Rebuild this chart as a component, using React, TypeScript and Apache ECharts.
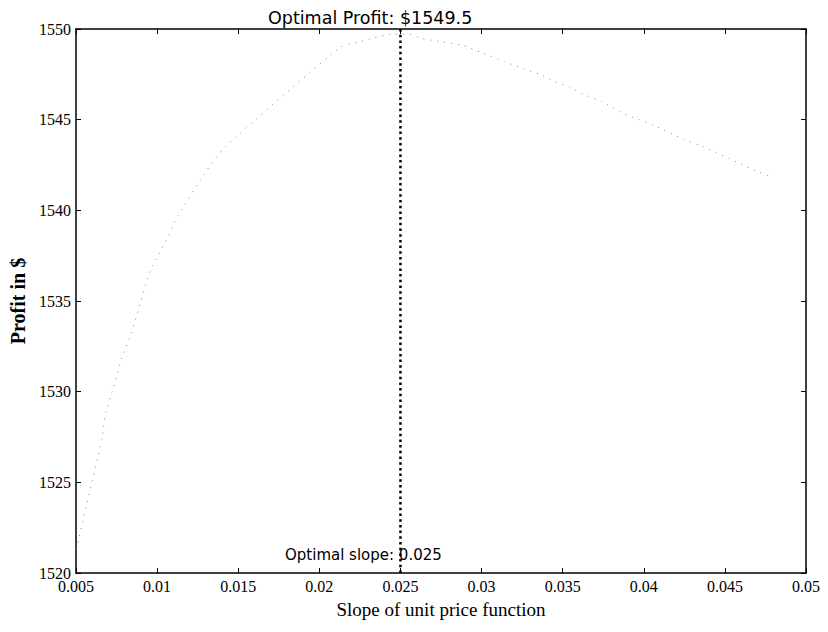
import React, { useEffect, useRef } from "react";
import * as echarts from "echarts";

const slopes = [
  0.005, 0.0052, 0.0054, 0.0066, 0.0068, 0.0073, 0.0075, 0.0078, 0.0084, 0.0091,
  0.0094, 0.0097, 0.0106, 0.0111, 0.0129, 0.0142, 0.0213, 0.0225, 0.0233, 0.0244,
  0.0256, 0.0262, 0.0275, 0.0288, 0.03, 0.0314, 0.0326, 0.0336, 0.0345, 0.0354,
  0.0363, 0.0374, 0.0386, 0.0394, 0.0406, 0.0425, 0.0437, 0.0466, 0.048,
];
const profits = [
  1521.3, 1522.0, 1522.8, 1527.4, 1528.7, 1530.2, 1530.8, 1531.8, 1533.2, 1535.3,
  1536.2, 1536.9, 1538.4, 1539.4, 1542.0, 1543.5, 1549.0, 1549.3, 1549.5, 1549.7,
  1549.7, 1549.5, 1549.3, 1549.1, 1548.7, 1548.2, 1547.8, 1547.5, 1547.1, 1546.8,
  1546.4, 1546.0, 1545.4, 1545.1, 1544.7, 1543.9, 1543.5, 1542.3, 1541.8,
];
const xTickLabels = ["0.005", "0.01", "0.015", "0.02", "0.025", "0.03", "0.035", "0.04", "0.045", "0.05"];
const yTickLabels = ["1520", "1525", "1530", "1535", "1540", "1545", "1550"];
const optimalSlope = 0.025;
const optimalProfit = 1549.5;
const xRange = [0.005, 0.05];
const yRange = [1520, 1550];

const serif = "'Liberation Serif', 'Times New Roman', serif";
const sans = "'DejaVu Sans', Arial, sans-serif";

export default function App() {
  const ref = useRef<HTMLDivElement>(null);
  useEffect(() => {
    document.body.style.margin = "0";
    const chart = echarts.init(ref.current!, null, { renderer: "svg" });
    const axisLine = { show: true, lineStyle: { color: "#000", width: 1.5 } };
    const tick = { show: true, inside: true, length: 5, lineStyle: { color: "#000", width: 1 } };
    const xLabelFmt = (v: number) => {
      const i = Math.round((v - xRange[0]) / 0.005);
      return xTickLabels[i] ?? "";
    };
    const yLabelFmt = (v: number) => {
      const i = Math.round((v - yRange[0]) / 5);
      return yTickLabels[i] ?? "";
    };
    chart.setOption({
      animation: false,
      backgroundColor: "#fff",
      grid: { left: 71, right: 22, top: 29, bottom: 59, containLabel: false },
      xAxis: [
        {
          type: "value",
          position: "bottom",
          min: xRange[0],
          max: xRange[1],
          interval: 0.005,
          axisLine,
          axisTick: tick,
          splitLine: { show: false },
          axisLabel: { formatter: xLabelFmt, color: "#000", fontFamily: serif, fontSize: 16, margin: 5 },
          name: "Slope of unit price function",
          nameLocation: "middle",
          nameGap: 27,
          nameTextStyle: { color: "#000", fontFamily: serif, fontSize: 19 },
        },
        {
          type: "value",
          position: "top",
          min: xRange[0],
          max: xRange[1],
          interval: 0.005,
          axisLine,
          axisTick: tick,
          axisLabel: { show: false },
          splitLine: { show: false },
        },
      ],
      yAxis: [
        {
          type: "value",
          position: "left",
          min: yRange[0],
          max: yRange[1],
          interval: 5,
          axisLine,
          axisTick: tick,
          splitLine: { show: false },
          axisLabel: { formatter: yLabelFmt, color: "#000", fontFamily: serif, fontSize: 16, margin: 5 },
          name: "Profit in $",
          nameLocation: "middle",
          nameGap: 48,
          nameTextStyle: { color: "#000", fontFamily: serif, fontSize: 20, fontWeight: "bold" },
        },
        {
          type: "value",
          position: "right",
          min: yRange[0],
          max: yRange[1],
          interval: 5,
          axisLine,
          axisTick: tick,
          axisLabel: { show: false },
          splitLine: { show: false },
        },
      ],
      series: [
        {
          type: "line",
          data: slopes.map((s, i) => [s, profits[i]]),
          smooth: 0.2,
          symbol: "none",
          lineStyle: { color: "#8a8a8a", width: 1, type: [1, 6] },
        },
        {
          type: "line",
          data: [
            [optimalSlope, yRange[0]],
            [optimalSlope, yRange[1]],
          ],
          symbol: "none",
          lineStyle: { color: "#000", width: 2.5, type: [2.5, 3.2] },
        },
      ],
      graphic: [
        {
          type: "text",
          left: 268,
          top: 9,
          style: {
            text: `Optimal Profit: $${optimalProfit}`,
            fill: "#000",
            font: `17.5px ${sans}`,
          },
        },
        {
          type: "text",
          left: 285,
          top: 547,
          style: {
            text: `Optimal slope: ${optimalSlope}`,
            fill: "#000",
            font: `15px ${sans}`,
          },
        },
      ],
    });
    return () => chart.dispose();
  }, []);
  return <div ref={ref} style={{ width: 828, height: 632 }} />;
}
